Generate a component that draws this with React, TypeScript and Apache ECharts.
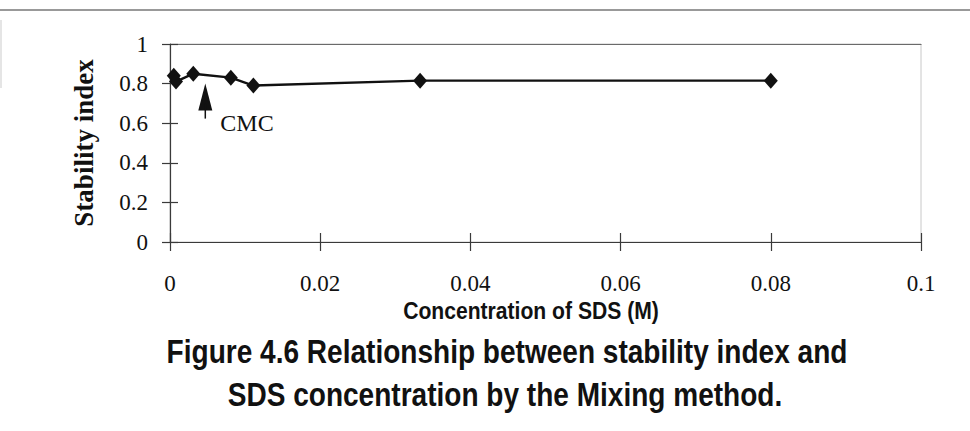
import React, { useEffect, useRef } from "react";
import * as echarts from "echarts";

const concentrations = [0.0005, 0.0008, 0.0031, 0.0081, 0.0111, 0.0333, 0.08];
const stabilityIndex = [0.84, 0.81, 0.85, 0.83, 0.79, 0.815, 0.815];
const xTicks = [0, 0.02, 0.04, 0.06, 0.08, 0.1];
const yTicks = [0, 0.2, 0.4, 0.6, 0.8, 1];
const cmcPoint = [0.0047, 0.8];
const cmcLabel = "CMC";
const xName = "Concentration of SDS (M)";
const yName = "Stability index";
const captionLine1 = "Figure 4.6 Relationship between stability index and";
const captionLine2 = "SDS concentration by the Mixing method.";

const SERIF = "'Liberation Serif', 'Times New Roman', serif";
const SANS = "'Liberation Sans', Arial, sans-serif";
const AXIS = "#3a3a3a";
const NARROW_SCALE = 0.85;

function fmt(v: number): string {
  return String(parseFloat(v.toFixed(3)));
}

export default function App() {
  const ref = useRef<HTMLDivElement>(null);
  useEffect(() => {
    document.body.style.margin = "0";
    const chart = echarts.init(ref.current!, null, { renderer: "svg" });
    const baseX = {
      type: "value" as const,
      min: xTicks[0],
      max: xTicks[xTicks.length - 1],
      interval: 0.02,
      splitLine: { show: false },
    };
    const baseY = {
      type: "value" as const,
      min: yTicks[0],
      max: yTicks[yTicks.length - 1],
      interval: 0.2,
      splitLine: { show: false },
    };
    chart.setOption({
      animation: false,
      backgroundColor: "#ffffff",
      grid: {
        left: 170,
        top: 44,
        right: 49,
        bottom: 189,
        show: true,
        borderColor: "#c8c8c8",
        borderWidth: 1,
      },
      xAxis: [
        {
          ...baseX,
          position: "bottom",
          axisLine: { show: true, lineStyle: { color: AXIS, width: 1.2 } },
          axisTick: { show: true, inside: false, length: 9, lineStyle: { color: AXIS, width: 1.2 } },
          axisLabel: {
            show: true,
            margin: 30,
            fontFamily: SERIF,
            fontSize: 23,
            color: "#111",
            formatter: (v: number) => fmt(v),
          },
        },
        {
          ...baseX,
          position: "bottom",
          axisLine: { show: false },
          axisTick: { show: true, inside: true, length: 9, lineStyle: { color: AXIS, width: 1.2 } },
          axisLabel: { show: false },
        },
        {
          ...baseX,
          position: "top",
          axisLine: { show: true, lineStyle: { color: "#6a6a6a", width: 1.2 } },
          axisTick: { show: false },
          axisLabel: { show: false },
        },
      ],
      yAxis: [
        {
          ...baseY,
          position: "left",
          name: yName,
          nameLocation: "middle",
          nameGap: 73,
          nameRotate: 90,
          nameTextStyle: { fontFamily: SERIF, fontWeight: "bold", fontSize: 27, color: "#111" },
          axisLine: { show: true, lineStyle: { color: AXIS, width: 1.2 } },
          axisTick: { show: true, inside: false, length: 8, lineStyle: { color: AXIS, width: 1.2 } },
          axisLabel: {
            show: true,
            margin: 22,
            fontFamily: SERIF,
            fontSize: 23,
            color: "#111",
            formatter: (v: number) => fmt(v),
          },
        },
        {
          ...baseY,
          position: "left",
          axisLine: { show: false },
          axisTick: { show: true, inside: true, length: 8, lineStyle: { color: AXIS, width: 1.2 } },
          axisLabel: { show: false },
        },
      ],
      series: [
        {
          type: "line",
          xAxisIndex: 0,
          yAxisIndex: 0,
          data: concentrations.map((c, i) => [c, stabilityIndex[i]]),
          symbol: "diamond",
          symbolSize: [14, 16],
          showSymbol: true,
          lineStyle: { color: "#111", width: 2.4 },
          itemStyle: { color: "#111" },
          z: 5,
        },
      ],
    });
    const tip = chart.convertToPixel({ gridIndex: 0 }, cmcPoint) as number[];
    const textStyle = (text: string, size: number) => ({
      text,
      fontFamily: SANS,
      fontWeight: "bold",
      fontSize: size,
      fill: "#111",
      align: "center",
      verticalAlign: "middle",
    });
    chart.setOption({
      graphic: [
        {
          type: "line",
          shape: { x1: 0, y1: 10, x2: 970, y2: 10 },
          style: { stroke: "#777", lineWidth: 1.5 },
        },
        {
          type: "line",
          shape: { x1: 1, y1: 20, x2: 1, y2: 88 },
          style: { stroke: "#ddd", lineWidth: 1.5 },
        },
        {
          type: "polygon",
          shape: {
            points: [
              [tip[0], tip[1]],
              [tip[0] - 7, tip[1] + 27],
              [tip[0] + 7, tip[1] + 27],
            ],
          },
          style: { fill: "#111" },
        },
        {
          type: "line",
          shape: { x1: tip[0], y1: tip[1] + 20, x2: tip[0], y2: tip[1] + 35 },
          style: { stroke: "#111", lineWidth: 1.5 },
        },
        {
          type: "text",
          x: tip[0] + 15,
          y: tip[1] + 39,
          style: {
            text: cmcLabel,
            fontFamily: SERIF,
            fontSize: 24,
            fill: "#111",
            verticalAlign: "middle",
          },
        },
        {
          type: "text",
          x: 531,
          y: 311,
          scaleX: 0.88,
          style: textStyle(xName, 24),
        },
        {
          type: "text",
          x: 507,
          y: 351,
          scaleX: NARROW_SCALE,
          style: textStyle(captionLine1, 33),
        },
        {
          type: "text",
          x: 505,
          y: 394,
          scaleX: NARROW_SCALE,
          style: textStyle(captionLine2, 33),
        },
      ],
    });
    return () => chart.dispose();
  }, []);
  return <div ref={ref} style={{ width: 970, height: 431 }} />;
}
